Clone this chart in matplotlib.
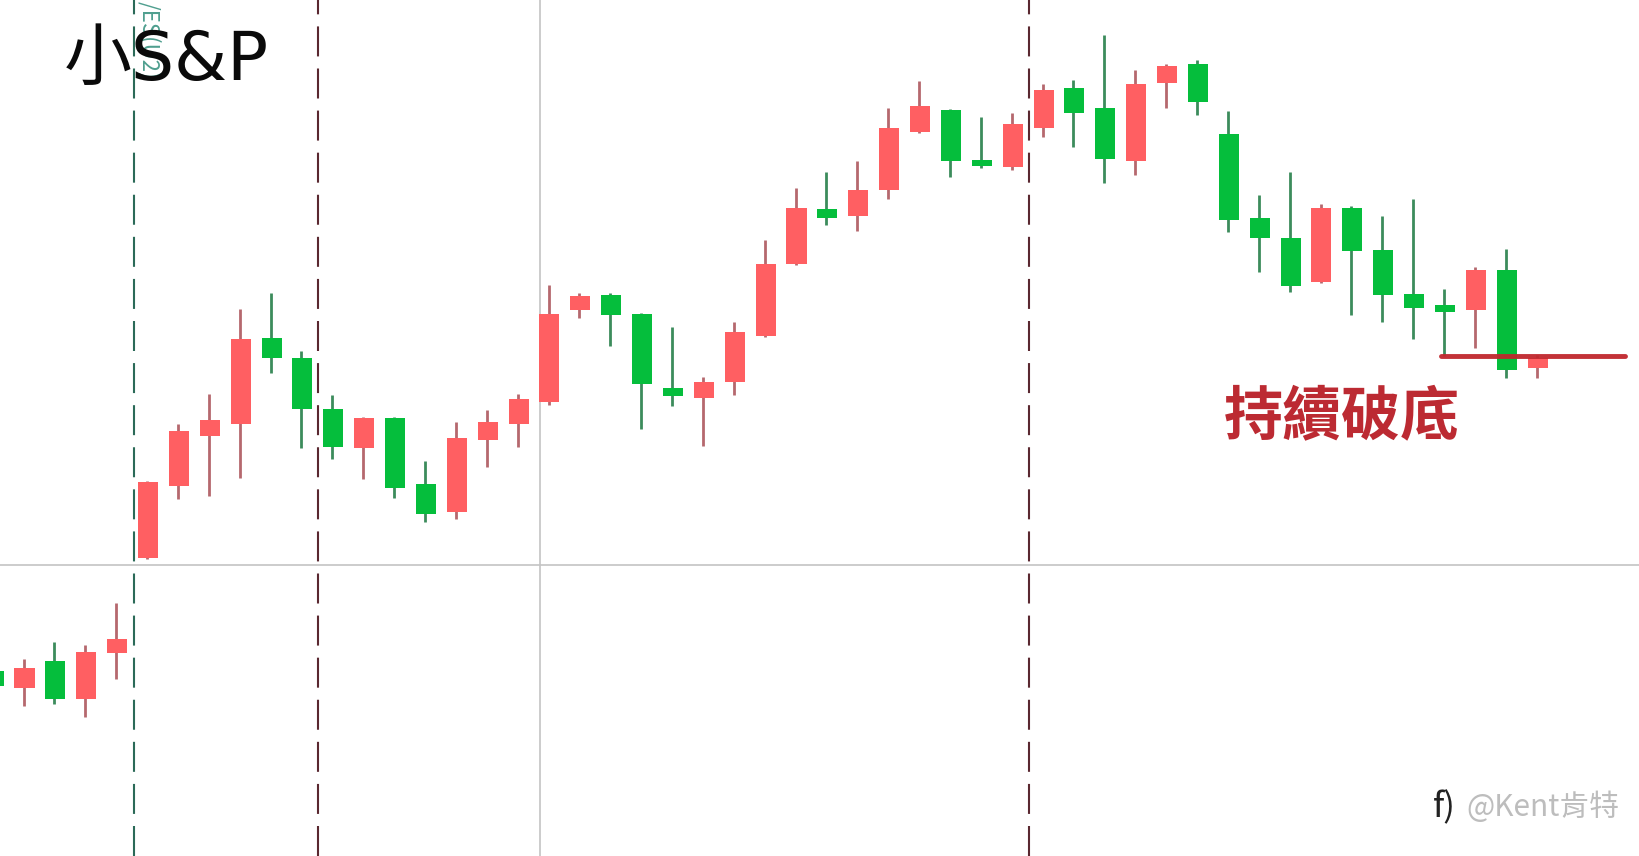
import matplotlib
matplotlib.use('Agg')
import matplotlib.pyplot as plt
import numpy as np

plt.rcParams['font.family'] = ['Noto Sans CJK TC', 'DejaVu Sans']

W, H = 1640, 856

#### Candles (first one is cut by the left edge)
index = np.arange(-1, 50)

body_top = [177, 180, 186, 195, 207, 358, 406, 417, 494, 495, 476, 427, 419, 419, 356, 400, 415,
            437, 518, 535, 536, 518, 447, 453, 501, 566, 620, 619, 637, 696, 717, 713, 665, 700,
            732, 734, 715, 738, 755, 757, 690, 610, 591, 620, 620, 579, 537, 527, 560, 560, 476]
body_bot = [163, 161, 150, 150, 194, 285, 354, 402, 413, 476, 427, 391, 390, 352, 327, 329, 398,
            413, 434, 522, 517, 451, 440, 438, 453, 497, 566, 610, 612, 637, 692, 664, 660, 659,
            696, 710, 666, 664, 739, 721, 608, 591, 545, 549, 578, 536, 524, 520, 522, 465, 467]
highs = [177, 188, 205, 202, 242, 359, 413, 442, 523, 538, 483, 441, 420, 420, 378, 415, 426,
         442, 546, 538, 538, 519, 506, 458, 511, 589, 639, 654, 664, 715, 741, 714, 707, 710,
         738, 742, 785, 751, 757, 761, 712, 632, 654, 623, 621, 612, 628, 542, 563, 580, 479]
lows = [163, 143, 145, 133, 169, 284, 341, 344, 361, 462, 390, 380, 360, 342, 319, 322, 372,
        391, 431, 514, 488, 408, 430, 392, 441, 496, 565, 603, 598, 628, 691, 649, 658, 656,
        687, 678, 643, 651, 715, 708, 597, 558, 539, 548, 517, 511, 494, 478, 486, 457, 457]
is_red = [0, 1, 0, 1, 1, 1, 1, 1, 1, 0, 0, 0, 1, 0, 0, 1, 1,
          1, 1, 1, 0, 0, 0, 1, 1, 1, 1, 0, 1, 1, 1, 0, 0, 1,
          1, 0, 0, 1, 1, 0, 0, 0, 0, 1, 0, 0, 0, 0, 1, 0, 1]

session_green = [3.55]
session_red = [9.50, 32.53]
cross_x = 16.69
cross_y = 278
floor_price = 478
floor_from, floor_to = 45.88, 51.84

RED, GREEN = '#FF5F62', '#05BE3C'
RED_WICK, GREEN_WICK = '#B5686E', '#3C8C5C'

fig = plt.figure(figsize=(W / 100, H / 100), dpi=100, facecolor='white')
ax = fig.add_axes([0, 0, 1, 1])
ax.set_xlim(-24.5 / 30.88, (W - 24.5) / 30.88)
ax.set_ylim(0, 818.4)
ax.axis('off')

# crosshair and session lines
ax.axvline(cross_x, color='#C4C4C4', lw=1.2, zorder=1)
ax.axhline(cross_y, color='#C4C4C4', lw=1.2, zorder=1)
for x in session_green:
    ax.axvline(x, color='#2B6A58', lw=1.5, ls=(0, (14.4, 5.8)), zorder=1)
for x in session_red:
    ax.axvline(x, color='#5A2830', lw=1.5, ls=(0, (14.4, 5.8)), zorder=1)

# candles
top = np.array(body_top)
bot = np.array(body_bot)
red = np.array(is_red, dtype=bool)
wick_col = [RED_WICK if r else GREEN_WICK for r in red]
body_col = [RED if r else GREEN for r in red]
ax.vlines(index - 0.03, lows, highs, colors=wick_col, lw=2.0, zorder=2)
ax.bar(index, top - bot, bottom=bot, width=0.65, color=body_col, lw=0, zorder=3)

ax.plot([floor_from, floor_to], [floor_price, floor_price], color='#C0272D', lw=3.5,
        solid_capstyle='round', alpha=0.95, zorder=4)

# labels
fig.text(64 / W, 1 - 80 / H, '小S&P', fontsize=49, color='#0A0A0A', va='baseline',
         family=['DejaVu Sans', 'Noto Sans CJK TC'], zorder=6)
fig.text(149 / W, 1 - 1 / H, '/ES(U2)', fontsize=16, color='#4F9F8F', rotation=270,
         ha='center', va='top', zorder=5)
fig.text(1224 / W, 1 - 434 / H, '持續破底', fontsize=42.5, color='#BC2A32', fontweight='bold',
         va='baseline', zorder=6)

# watermark
fig.text(1433 / W, 1 - 817 / H, 'f)', fontsize=25, color='#222222', style='italic',
         va='baseline', zorder=6)
fig.text(1466 / W, 1 - 816 / H, '@Kent肯特', fontsize=21.5, color='#BDBDBD', fontweight='light',
         va='baseline', zorder=6)

fig.savefig('out.png', dpi=100, facecolor='white')
